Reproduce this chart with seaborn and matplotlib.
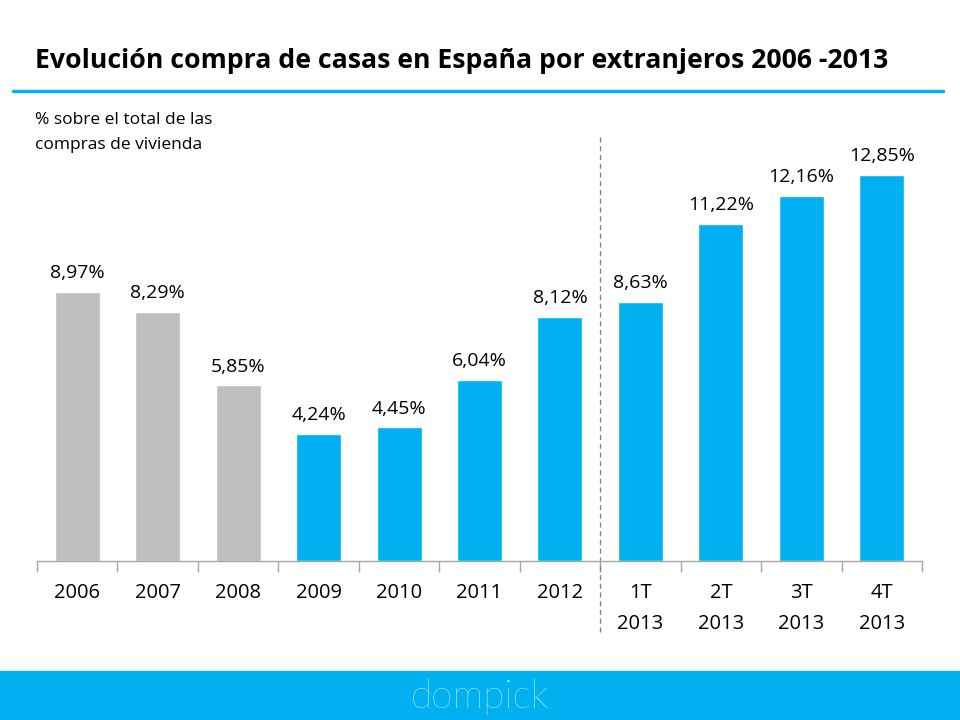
import matplotlib
matplotlib.use("Agg", force=True)
import matplotlib.pyplot as plt
import seaborn as sns
import pandas as pd

periods = ["2006", "2007", "2008", "2009", "2010", "2011", "2012",
           "1T\n2013", "2T\n2013", "3T\n2013", "4T\n2013"]
shares = [8.97, 8.29, 5.85, 4.24, 4.45, 6.04, 8.12, 8.63, 11.22, 12.16, 12.85]
bar_colors = ["#BFBFBF"] * 3 + ["#00B0F0"] * 8

BLUE = "#00B0F0"

sns.set_theme(style="white")
plt.rcParams["font.family"] = ["Open Sans", "DejaVu Sans"]

df = pd.DataFrame({"period": periods, "share": shares})

fig = plt.figure(figsize=(9.6, 7.2), dpi=100)
ax = fig.add_axes([37 / 960, 1 - 561 / 720, 885 / 960, 441 / 720])

sns.barplot(data=df, x="period", y="share", hue="period", order=periods,
            palette=dict(zip(periods, bar_colors)), width=0.56,
            legend=False, ax=ax, saturation=1)

for cont in ax.containers:
    ax.bar_label(cont, labels=[f"{v:.2f}%".replace(".", ",") for v in cont.datavalues],
                 padding=7, fontsize=14, color="black")

ax.set_ylim(0, 441 / 30.04)
ax.set_xlim(-0.5, len(periods) - 0.5)
ax.set_xlabel("")
ax.set_ylabel("")
ax.set_yticks([])
for s in ["top", "right", "left"]:
    ax.spines[s].set_visible(False)
ax.spines["bottom"].set_color("#A6A6A6")
ax.spines["bottom"].set_linewidth(1)

ax.set_xticks([i - 0.5 for i in range(len(periods) + 1)], minor=True)
ax.tick_params(axis="x", which="minor", length=8, color="#A6A6A6", width=1, direction="out", bottom=True)
ax.tick_params(axis="x", which="major", length=0, pad=16, labelsize=14.5, labelcolor="black")
for lbl in ax.get_xticklabels():
    lbl.set_linespacing(1.7)

# separator between yearly and quarterly data
ax.axvline(6.5, ymin=-(632 - 561) / 441, ymax=(561 - 135) / 441, color="#7F7F7F",
           linestyle=(0, (4, 3)), linewidth=0.9, clip_on=False)

# title and rule
fig.text(35 / 960, 1 - 61 / 720, "Evolución compra de casas en España por extranjeros 2006 -2013",
         fontsize=19.2, fontweight="bold", va="center", ha="left", color="black")
fig.add_artist(plt.Line2D([13 / 960, 943 / 960], [1 - 91 / 720] * 2, color=BLUE, linewidth=2.5))

fig.text(35 / 960, 1 - 112 / 720, "% sobre el total de las\ncompras de vivienda",
         fontsize=12.5, va="top", ha="left", linespacing=1.75, color="black")

# footer band
fig.add_artist(plt.Rectangle((0, 0), 1, 49 / 720, transform=fig.transFigure,
                             color=BLUE, zorder=0))
fig.text(0.5, 1 - 697 / 720, "dompick", fontsize=28, color="white", fontweight="light",
         ha="center", va="center", family=["Lato", "DejaVu Sans"])

fig.savefig("out.png", dpi=100)
